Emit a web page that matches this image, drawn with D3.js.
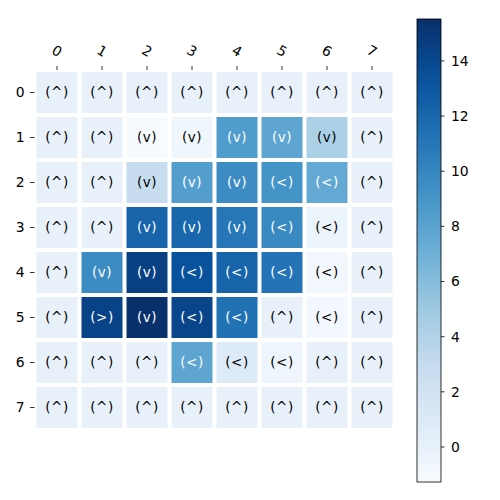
<!DOCTYPE html>
<html>
<head>
<meta charset="utf-8">
<script src="https://cdn.jsdelivr.net/npm/d3@7"></script>
<style>
  body { margin: 0; background: #fff; }
  text { font-family: "DejaVu Sans", sans-serif; }
</style>
</head>
<body>
<div id="chart"></div>
<script>
// grid labels
var cols = ['0', '1', '2', '3', '4', '5', '6', '7'];
var rows = ['0', '1', '2', '3', '4', '5', '6', '7'];

// state values
var values = [
    [0, 0, 0, 0, 0, 0, 0, 0],
    [0, 0, -1.27, -0.6, 8.5, 7.8, 4.3, 0],
    [0, 0, 2.8, 8.3, 9.6, 9.1, 7.5, 0],
    [0, 0, 12.2, 12.0, 11.0, 9.8, -0.3, 0],
    [0, 9.6, 14.5, 13.4, 12.2, 11.2, -0.8, 0],
    [0, 14.3, 15.52, 14.2, 11.3, 0, -0.9, 0],
    [0, 0, 0, 7.8, 0.9, -0.5, 0, 0],
    [0, 0, 0, 0, 0, 0, 0, 0]
];

// policy arrows shown in each cell
var arrows = [
    ['^', '^', '^', '^', '^', '^', '^', '^'],
    ['^', '^', 'v', 'v', 'v', 'v', 'v', '^'],
    ['^', '^', 'v', 'v', 'v', '<', '<', '^'],
    ['^', '^', 'v', 'v', 'v', '<', '<', '^'],
    ['^', 'v', 'v', '<', '<', '<', '<', '^'],
    ['^', '>', 'v', '<', '<', '^', '<', '^'],
    ['^', '^', '^', '<', '<', '<', '^', '^'],
    ['^', '^', '^', '^', '^', '^', '^', '^']
];

var cbarTicks = [0, 2, 4, 6, 8, 10, 12, 14];

(function() {
    var width = 500, height = 500;
    var svg = d3.select('#chart').append('svg')
        .attr('width', width)
        .attr('height', height);

    var vmin = d3.min(values, function(r) { return d3.min(r); });
    var vmax = d3.max(values, function(r) { return d3.max(r); });

    // matplotlib "Blues"
    var bluesStops = ['#f7fbff', '#deebf7', '#c6dbef', '#9ecae1', '#6baed6', '#4292c6', '#2171b5', '#08519c', '#08306b'];
    var norm = d3.scaleLinear().domain([vmin, vmax]).range([0, 1]);
    var blues = d3.scaleLinear()
        .domain(d3.range(bluesStops.length).map(function(i) { return i / (bluesStops.length - 1); }))
        .range(bluesStops)
        .interpolate(d3.interpolateRgb);
    function color(v) { return blues(norm(v)); }

    var x = d3.scaleBand().domain(cols).range([34.5, 394.5]);
    var y = d3.scaleBand().domain(rows).range([70, 430]);

    var cells = [];
    values.forEach(function(r, i) {
        r.forEach(function(v, j) {
            cells.push({row: rows[i], col: cols[j], value: v, arrow: arrows[i][j]});
        });
    });

    var plot = svg.append('g');

    plot.selectAll('rect.cell')
        .data(cells)
        .enter().append('rect')
        .attr('class', 'cell')
        .attr('x', function(d) { return x(d.col); })
        .attr('y', function(d) { return y(d.row); })
        .attr('width', x.bandwidth())
        .attr('height', y.bandwidth())
        .style('fill', function(d) { return color(d.value); });

    // faint right edge
    plot.append('line')
        .attr('x1', 395.5).attr('x2', 395.5)
        .attr('y1', 70).attr('y2', 430)
        .style('stroke', '#dddddd')
        .style('stroke-width', 1);

    // white grid between cells
    var gridX = d3.range(cols.length + 1).map(function(i) { return x.range()[0] + i * x.step(); });
    var gridY = d3.range(rows.length + 1).map(function(i) { return y.range()[0] + i * y.step(); });
    plot.selectAll('line.gx').data(gridX).enter().append('line')
        .attr('x1', function(d) { return d; }).attr('x2', function(d) { return d; })
        .attr('y1', 68).attr('y2', 432)
        .style('stroke', '#fff').style('stroke-width', 4);
    plot.selectAll('line.gy').data(gridY).enter().append('line')
        .attr('y1', function(d) { return d; }).attr('y2', function(d) { return d; })
        .attr('x1', 32).attr('x2', 396)
        .style('stroke', '#fff').style('stroke-width', 4);

    // cell annotations
    plot.selectAll('text.ann')
        .data(cells)
        .enter().append('text')
        .attr('class', 'ann')
        .attr('x', function(d) { return x(d.col) + x.bandwidth() / 2; })
        .attr('y', function(d) { return y(d.row) + y.bandwidth() / 2; })
        .attr('text-anchor', 'middle')
        .attr('dy', '0.35em')
        .style('font-size', '13.5px')
        .style('letter-spacing', '0.5px')
        .style('fill', function(d) { return norm(d.value) > 0.5 ? '#fff' : '#000'; })
        .text(function(d) { return '(' + d.arrow + ')'; });

    // left axis
    var leftAxis = svg.append('g');
    leftAxis.selectAll('line').data(rows).enter().append('line')
        .attr('x1', 34.5 - 4.5).attr('x2', 34.5)
        .attr('y1', function(d) { return y(d) + y.bandwidth() / 2; })
        .attr('y2', function(d) { return y(d) + y.bandwidth() / 2; })
        .style('stroke', '#000').style('stroke-width', 0.8);
    leftAxis.selectAll('text').data(rows).enter().append('text')
        .attr('x', 24.5)
        .attr('y', function(d) { return y(d) + y.bandwidth() / 2; })
        .attr('dy', '0.35em')
        .attr('text-anchor', 'end')
        .style('font-size', '13.9px')
        .text(function(d) { return d; });

    // top axis, rotated labels
    var topAxis = svg.append('g');
    topAxis.selectAll('line').data(cols).enter().append('line')
        .attr('x1', function(d) { return x(d) + x.bandwidth() / 2; })
        .attr('x2', function(d) { return x(d) + x.bandwidth() / 2; })
        .attr('y1', 70 - 4).attr('y2', 70)
        .style('stroke', '#000').style('stroke-width', 0.8);
    topAxis.selectAll('text').data(cols).enter().append('text')
        .attr('transform', function(d) {
            return 'translate(' + (x(d) + x.bandwidth() / 2) + ',51) rotate(30)';
        })
        .attr('text-anchor', 'middle')
        .attr('dy', '0.35em')
        .style('font-size', '13.9px')
        .text(function(d) { return d; });

    // colorbar
    var cbX = 417, cbW = 24, cbTop = 19, cbBottom = 482;
    var cy = d3.scaleLinear().domain([vmin, vmax]).range([cbBottom, cbTop]);

    var grad = svg.append('defs').append('linearGradient')
        .attr('id', 'cbgrad')
        .attr('x1', 0).attr('y1', 1).attr('x2', 0).attr('y2', 0);
    grad.selectAll('stop').data(d3.range(0, 1.0001, 0.05)).enter().append('stop')
        .attr('offset', function(d) { return d; })
        .attr('stop-color', function(d) { return blues(d); });

    svg.append('rect')
        .attr('x', cbX).attr('y', cbTop)
        .attr('width', cbW).attr('height', cbBottom - cbTop)
        .style('fill', 'url(#cbgrad)')
        .style('stroke', '#000')
        .style('stroke-width', 0.8);

    var cbAxis = svg.append('g');
    cbAxis.selectAll('line').data(cbarTicks).enter().append('line')
        .attr('x1', cbX + cbW).attr('x2', cbX + cbW + 3.5)
        .attr('y1', function(d) { return cy(d); })
        .attr('y2', function(d) { return cy(d); })
        .style('stroke', '#000').style('stroke-width', 0.8);
    cbAxis.selectAll('text').data(cbarTicks).enter().append('text')
        .attr('x', cbX + cbW + 10)
        .attr('y', function(d) { return cy(d); })
        .attr('dy', '0.35em')
        .style('font-size', '13.9px')
        .text(function(d) { return d; });
})();
</script>
</body>
</html>
